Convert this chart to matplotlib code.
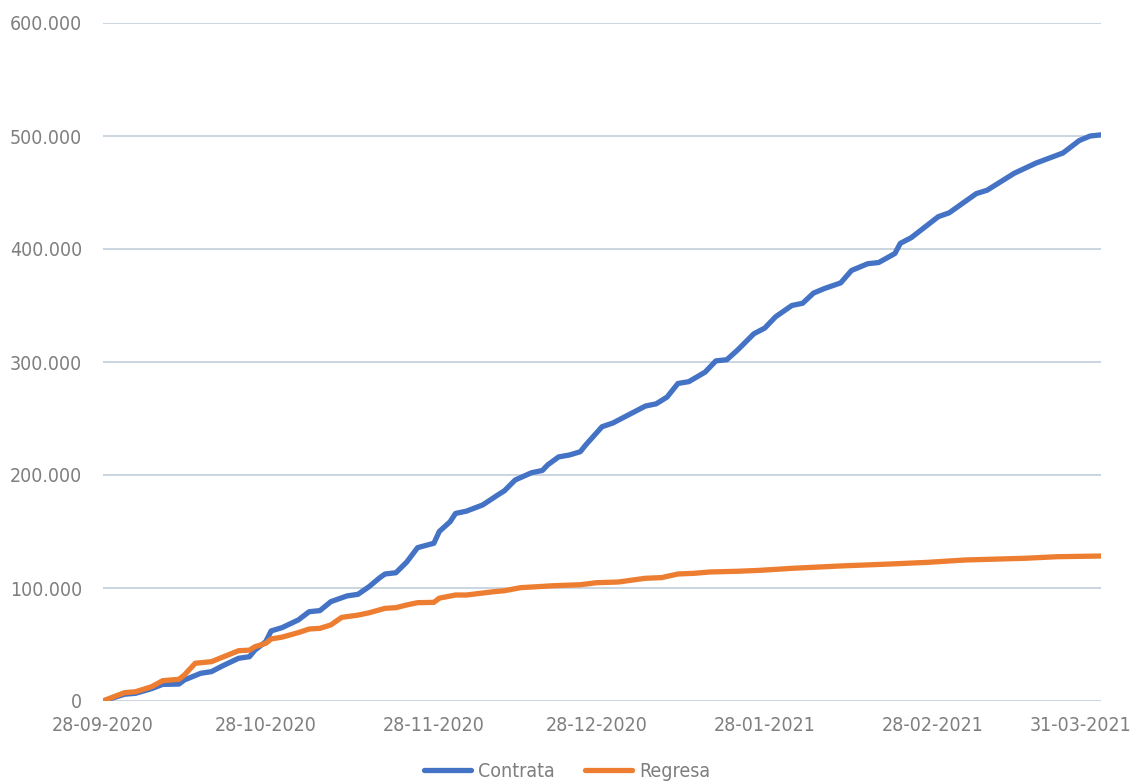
#!/usr/bin/env python3
"""Contrata vs Regresa, cumulative counts 28-09-2020 .. 31-03-2021."""
import matplotlib
matplotlib.use("Agg")
import matplotlib.pyplot as plt
from matplotlib import font_manager
from matplotlib.ticker import FuncFormatter
from matplotlib.transforms import ScaledTranslation
import pandas as pd

START = "2020-09-28"

# day offsets from 28-09-2020 and cumulative values
contrata_days = [0, 2, 4, 6, 9, 11, 14, 15, 18, 20, 22, 25, 27, 28, 30, 31, 33, 36, 38, 40,
                 42, 45, 47, 49, 51, 52, 54, 56, 58, 61, 62, 64, 65, 67, 70, 73, 74, 76, 79, 81,
                 82, 84, 86, 88, 89, 92, 94, 98, 100, 102, 104, 106, 108, 111, 113, 115, 117, 120,
                 122, 124, 127, 129, 131, 133, 136, 138, 141, 143, 146, 147, 149, 154, 156, 161,
                 163, 168, 172, 177, 180, 182, 184]
contrata_vals = [0, 3000, 6000, 6800, 11000, 14700, 15000, 18600, 24500, 26000, 31000, 37800, 39200,
                 45000, 52500, 62000, 64900, 71700, 79000, 80000, 87900, 93000, 94400, 101000,
                 109000, 112400, 113500, 123000, 135700, 139600, 150000, 158700, 166000, 168000,
                 173500, 183000, 186000, 195600, 202000, 204000, 209000, 216000, 217700, 220600,
                 226600, 242700, 246000, 256000, 261000, 263000, 269000, 281000, 282600, 291000,
                 301000, 302000, 310600, 325000, 330000, 340000, 350000, 352000, 361000, 365000,
                 370000, 381000, 387000, 388000, 396000, 405000, 410000, 428600, 432000, 449000,
                 452000, 467000, 476000, 485000, 496000, 500000, 501000]

regresa_days = [0, 2, 4, 6, 9, 11, 14, 15, 17, 20, 22, 25, 27, 28, 30, 31, 33, 36, 38, 40,
                42, 44, 47, 49, 52, 54, 56, 58, 61, 62, 65, 67, 72, 74, 77, 83, 88, 91, 95, 100,
                103, 106, 109, 112, 117, 121, 127, 136, 145, 152, 159, 170, 176, 184]
regresa_vals = [0, 3800, 7400, 8200, 12700, 18000, 19200, 23000, 33400, 34800, 38700, 44500, 45000,
                48000, 51000, 54900, 56500, 60500, 63700, 64300, 67300, 74000, 76000, 78000,
                82000, 82600, 85000, 87000, 87300, 91000, 93800, 93800, 96700, 97600, 100300,
                102000, 102900, 104700, 105300, 108600, 109200, 112400, 113000, 114200, 114800,
                115600, 117400, 119500, 121200, 122700, 124800, 126300, 127700, 128300]

tick_labels = ["28-09-2020", "28-10-2020", "28-11-2020", "28-12-2020",
               "28-01-2021", "28-02-2021", "31-03-2021"]

BLUE = "#4472C4"
ORANGE = "#ED7D31"
GRID = "#c6d2de"
TEXT = "#7f7f7f"


def pick_font():
    """Narrow font if there is one, else plain DejaVu at a smaller size."""
    fonts = font_manager.fontManager.ttflist
    names = {f.name for f in fonts}
    if "Liberation Sans Narrow" in names:
        return "Liberation Sans Narrow", "normal", 15
    for f in fonts:
        if f.name == "DejaVu Sans" and str(f.stretch) in ("condensed", "semi-condensed"):
            return "DejaVu Sans", "condensed", 14
    return "DejaVu Sans", "normal", 12


def to_dates(days):
    return pd.Timestamp(START) + pd.to_timedelta(days, unit="D")


def main():
    family, stretch, fsize = pick_font()
    plt.rcParams["font.family"] = [family, "DejaVu Sans"]
    plt.rcParams["font.stretch"] = stretch

    fig = plt.figure(figsize=(11.34, 7.83), dpi=100)
    ax = fig.add_axes([103 / 1134, 1 - 701 / 783, 998 / 1134, 678 / 783])

    ax.plot(to_dates(contrata_days), contrata_vals, color=BLUE, lw=3.8,
            solid_capstyle="round", solid_joinstyle="round", label="Contrata", zorder=3)
    ax.plot(to_dates(regresa_days), regresa_vals, color=ORANGE, lw=3.8,
            solid_capstyle="round", solid_joinstyle="round", label="Regresa", zorder=3)

    ax.set_ylim(0, 600000)
    ax.set_yticks(range(0, 600001, 100000))
    ax.yaxis.set_major_formatter(FuncFormatter(lambda v, _: f"{int(v):,}".replace(",", ".")))
    ax.set_xlim(to_dates([0])[0], to_dates([184])[0])
    ticks = pd.to_datetime(tick_labels, format="%d-%m-%Y")
    ax.set_xticks(ticks)
    ax.set_xticklabels(tick_labels)

    ax.grid(axis="y", color=GRID, lw=1.3, zorder=0)
    for s in ax.spines.values():
        s.set_visible(False)
    ax.tick_params(length=0, labelsize=fsize, colors=TEXT)
    ax.tick_params(axis="y", pad=15)
    ax.tick_params(axis="x", pad=11)

    # Excel keeps the last date label inside the chart area
    last = ax.get_xticklabels()[-1]
    last.set_horizontalalignment("right")
    last.set_transform(last.get_transform() + ScaledTranslation(0.30, 0, fig.dpi_scale_trans))

    fig.legend(loc="lower center", bbox_to_anchor=(0.5, -0.02), ncol=2, frameon=False,
               fontsize=fsize, labelcolor=TEXT, handlelength=2.4, columnspacing=1.6,
               handletextpad=0.35)
    fig.savefig("out.png", dpi=100)
    plt.close(fig)


if __name__ == "__main__":
    main()
